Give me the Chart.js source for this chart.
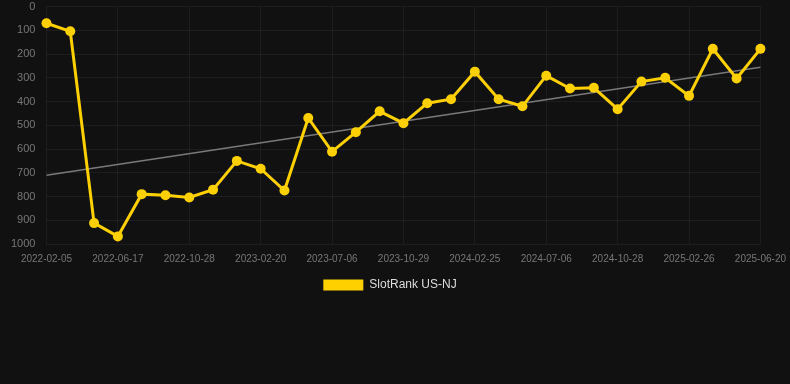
<!DOCTYPE html>
<html>
<head>
<meta charset="utf-8">
<script src="https://cdn.jsdelivr.net/npm/chart.js@4/dist/chart.umd.min.js"></script>
<style>
  html,body{margin:0;padding:0;background:#111111;}
  #wrap{position:relative;width:790px;height:301px;}
</style>
</head>
<body>
<div id="wrap"><canvas id="rankChart"></canvas></div>
<script>
// rank history - lower is better, so the y axis is reversed
const dates = [
  '2022-02-05','2022-03-21','2022-05-04','2022-06-17','2022-07-31','2022-09-14',
  '2022-10-28','2022-12-05','2023-01-12','2023-02-20','2023-04-05','2023-05-21',
  '2023-07-06','2023-08-13','2023-09-21','2023-10-29','2023-12-08','2024-01-17',
  '2024-02-25','2024-04-10','2024-05-23','2024-07-06','2024-08-13','2024-09-20',
  '2024-10-28','2024-12-07','2025-01-16','2025-02-26','2025-04-03','2025-05-12',
  '2025-06-20'
];
const rankNJ = [
  70, 104, 912, 968, 790, 795, 804, 771, 650, 683, 775, 469,
  611, 529, 441, 491, 407, 390, 274, 390, 420, 291, 345, 342,
  432, 316, 300, 376, 178, 303, 178
];
// trend line: only the two ends are known, the rest is spanned
const trendEnds = [710, 255];
const yTicks = [0, 1000, 100]; // min, max, step

(function(){
  const trend = dates.map(()=>null);
  trend[0] = trendEnds[0];
  trend[trend.length-1] = trendEnds[1];

  Chart.defaults.font.family = '"Liberation Sans", Arial, sans-serif';
  const defaultLabels = Chart.defaults.plugins.legend.labels.generateLabels;

  new Chart(document.getElementById('rankChart').getContext('2d'), {
    type: 'line',
    data: {
      labels: dates,
      datasets: [
        { label: 'SlotRank US-NJ', data: rankNJ, borderColor: '#FFD000', backgroundColor: '#FFD000',
          borderWidth: 3, pointRadius: 5, pointHoverRadius: 5, pointBackgroundColor: '#FFD000',
          pointBorderWidth: 0, tension: 0, order: 1, clip: false },
        { label: 'trend', data: trend, borderColor: 'rgba(140,140,140,0.85)', borderWidth: 1.5,
          pointRadius: 0, spanGaps: true, fill: false, order: 2, clip: false }
      ]
    },
    options: {
      responsive: true, maintainAspectRatio: false, animation: false,
      layout: { autoPadding: false, padding: { top: 0, right: 21, left: 11, bottom: 0 } },
      plugins: {
        legend: {
          position: 'bottom',
          labels: {
            color: '#dddddd', font: { size: 12 }, boxWidth: 40, boxHeight: 11, padding: 10,
            filter: item => item.text !== 'trend',
            generateLabels: function(chart){
              return defaultLabels(chart).map(l => Object.assign(l, { lineWidth: 0 }));
            }
          }
        },
        tooltip: { enabled: false }
      },
      scales: {
        x: {
          grid: { color: 'rgba(255,255,255,0.05)', drawTicks: true, tickLength: 5, tickColor: 'transparent' },
          border: { display: false },
          ticks: {
            color: '#777777', font: { size: 10 }, maxRotation: 0, autoSkip: false, padding: 4,
            callback: function(v, i){ return i % 3 === 0 ? this.getLabelForValue(v) : null; }
          }
        },
        y: {
          reverse: true, min: yTicks[0], max: yTicks[1],
          grid: { color: 'rgba(255,255,255,0.05)', drawTicks: true, tickLength: 11, tickColor: 'transparent' },
          border: { display: false },
          ticks: { color: '#777777', font: { size: 11 }, stepSize: yTicks[2], padding: 0,
            callback: v => String(v) }
        }
      }
    }
  });
})();
</script>
</body>
</html>
